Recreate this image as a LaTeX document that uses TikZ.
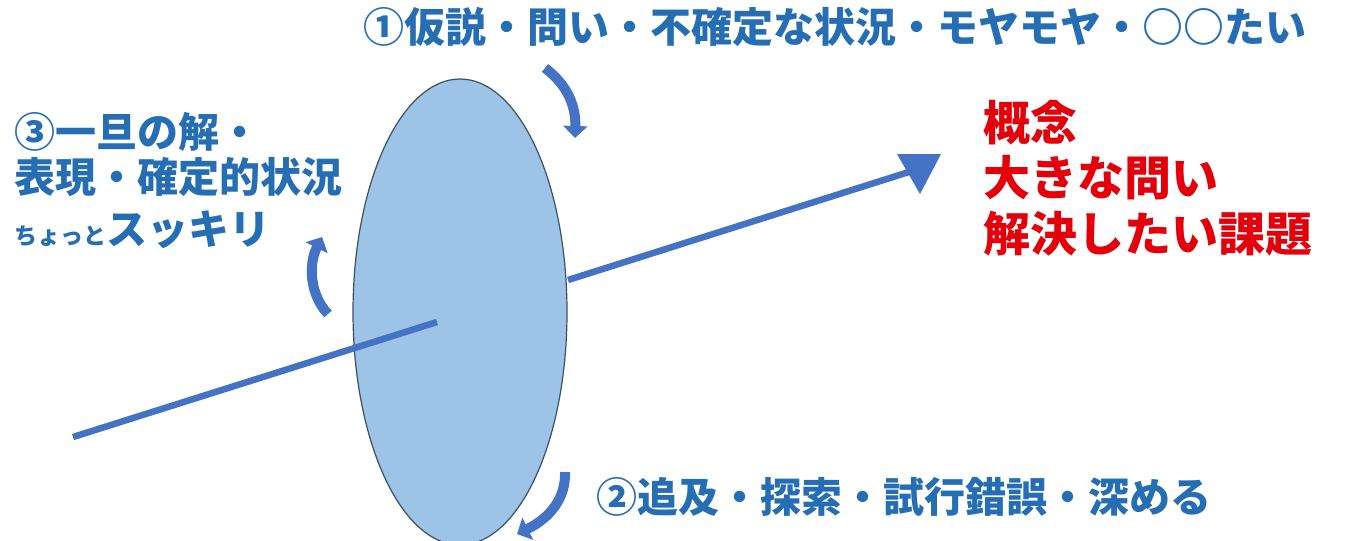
\documentclass[tikz,border=0pt]{standalone}
\usepackage{fontspec}
\newfontfamily\jp{Noto Sans CJK JP}
\usetikzlibrary{arrows.meta,shapes.geometric}
\definecolor{txtblue}{RGB}{38,110,180}
\definecolor{lineblue}{RGB}{68,114,196}
\definecolor{ellfill}{RGB}{157,195,230}
\definecolor{ellline}{RGB}{60,80,100}
\definecolor{txtred}{RGB}{228,0,10}
\begin{document}
\begin{tikzpicture}[x=1pt,y=-1pt,
  bluetxt/.style={anchor=base west,inner sep=0pt,text=txtblue,font=\jp\bfseries},
  redtxt/.style={anchor=base west,inner sep=0pt,text=txtred,font=\jp\bfseries\fontsize{47}{55}\selectfont},
  axisline/.style={draw=lineblue,line width=6.5pt},
  turnarrow/.style={draw=lineblue,line width=10pt,-{Triangle[width=24pt,length=12pt]}}]
\useasboundingbox (0,0) rectangle (1345,541);
\fill[white] (0,0) rectangle (1345,541);
% disc
\node (disc) [ellipse,draw=ellline,line width=1.2pt,fill=ellfill,minimum width=214pt,minimum height=466pt,inner sep=0pt] at (460,312) {};
% axis
\coordinate (tail) at (73,437);
\coordinate (pierce) at (437,322);
\coordinate (exit) at (568,280);
\coordinate (head) at (912,171);
\draw[axisline] (tail) -- (pierce);
\draw[axisline] (exit) -- (head);
\coordinate (h1) at (897,154);
\coordinate (h2) at (941,154);
\coordinate (h3) at (920,194);
\fill[lineblue] (h1) -- (h2) -- (h3) -- cycle;
% turning arrows
\coordinate (a1s) at (545,68);
\coordinate (a1e) at (575,138);
\draw[turnarrow] (a1s) .. controls (566,84) and (576,104) .. (a1e);
\coordinate (a2s) at (328,314);
\coordinate (a2e) at (322,237);
\draw[turnarrow] (a2s) .. controls (310,295) and (308,265) .. (a2e);
\coordinate (a3s) at (565,472);
\coordinate (a3e) at (517,534);
\draw[turnarrow] (a3s) .. controls (566,498) and (550,518) .. (a3e);
% texts
\node (t1) [bluetxt,font=\jp\bfseries\fontsize{41}{48}\selectfont] at (363,42) {①仮説・問い・不確定な状況・モヤモヤ・○○たい};
\node (t3a) [bluetxt,font=\jp\bfseries\fontsize{41}{48}\selectfont] at (14,147) {③一旦の解・};
\node (t3b) [bluetxt,font=\jp\bfseries\fontsize{41}{48}\selectfont] at (14,192) {表現・確定的状況};
\node (t3c) [bluetxt] at (14,244) {{\fontsize{23}{26}\selectfont ちょっと}{\fontsize{41}{48}\selectfont スッキリ}};
\node (t2) [bluetxt,font=\jp\bfseries\fontsize{41}{48}\selectfont] at (596,512) {②追及・探索・試行錯誤・深める};
\node (r1) [redtxt] at (983,140) {概念};
\node (r2) [redtxt] at (983,195) {大きな問い};
\node (r3) [redtxt] at (983,251) {解決したい課題};
\end{tikzpicture}
\end{document}
